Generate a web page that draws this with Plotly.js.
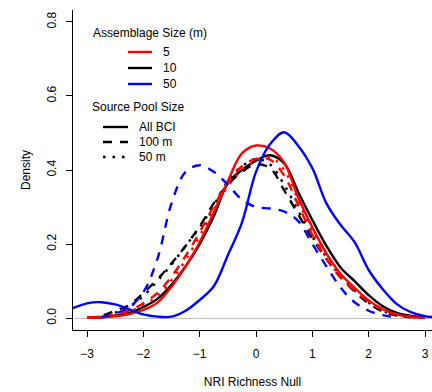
<!DOCTYPE html>
<html><head><meta charset="utf-8">
<script src="https://cdn.plot.ly/plotly-3.0.1.min.js"></script>
<style>html,body{margin:0;padding:0;background:#fff}#chart{width:432px;height:392px}</style>
</head><body><div id="chart"></div>
<script>
// NRI value grid shared by all density curves
const xGrid = [-3.25,-3,-2.75,-2.5,-2.25,-2,-1.75,-1.5,-1.25,-1,-0.75,-0.5,-0.25,0,0.25,0.5,0.75,1,1.25,1.5,1.75,2,2.25,2.5,2.75,3,3.125];

// Assemblage 10 m
const dens10All = [null,0.001,0.002,0.007,0.014,0.030,0.052,0.090,0.140,0.200,0.275,0.365,0.400,0.425,0.440,0.418,0.340,0.265,0.195,0.137,0.100,0.062,0.032,0.014,0.006,0.002,null];
const dens10P100 = [null,0.001,0.006,0.020,0.035,0.068,0.105,0.148,0.195,0.248,0.310,0.360,0.395,0.415,0.405,0.345,0.280,0.215,0.160,0.110,0.072,0.040,0.018,0.007,0.002,null,null];
const dens10P50 = [null,0.001,0.005,0.015,0.030,0.060,0.100,0.145,0.195,0.245,0.305,0.370,0.410,0.430,0.415,0.360,0.290,0.220,0.165,0.115,0.075,0.042,0.020,0.008,0.003,null,null];
// Assemblage 5 m
const dens5All = [null,0.001,0.002,0.005,0.011,0.022,0.042,0.085,0.140,0.205,0.285,0.370,0.445,0.466,0.458,0.420,0.325,0.245,0.175,0.120,0.082,0.048,0.024,0.010,0.003,0.001,null];
const dens5P100 = [null,0.001,0.004,0.010,0.020,0.040,0.068,0.112,0.168,0.232,0.302,0.365,0.410,0.430,0.428,0.385,0.305,0.225,0.160,0.110,0.075,0.045,0.022,0.010,0.004,0.001,null];
const dens5P50 = [null,0.001,0.003,0.008,0.018,0.035,0.060,0.102,0.157,0.222,0.292,0.356,0.400,0.425,0.435,0.400,0.318,0.232,0.165,0.112,0.078,0.045,0.023,0.010,0.004,0.001,null];
// Assemblage 50 m
const dens50All = [0.027,0.040,0.043,0.037,0.024,0.010,0.004,0.004,0.020,0.049,0.086,0.170,0.258,0.395,0.470,0.502,0.465,0.405,0.310,0.252,0.205,0.130,0.078,0.038,0.016,0.005,0.003];
const dens50P100 = [null,null,0.003,0.012,0.030,0.070,0.160,0.310,0.395,0.413,0.395,0.360,0.320,0.300,0.296,0.288,0.262,0.200,0.140,0.083,0.043,0.020,0.008,0.002,null,null,null];

const xTicks = [-3,-2,-1,0,1,2,3];
const yTicks = [0,0.2,0.4,0.6,0.8];
const yTickLabels = ['0.0','0.2','0.4','0.6','0.8'];

const assemblageLabels = ['5','10','50'];
const assemblageColors = ['#FF0000','#000000','#0000FF'];
const sourceLabels = ['All BCI','100 m','50 m'];
const sourceDashes = ['solid','9px,8px','2.5px,7px'];

const series = [
  {y: dens10All, c: 1, s: 0}, {y: dens10P100, c: 1, s: 1}, {y: dens10P50, c: 1, s: 2},
  {y: dens5All, c: 0, s: 0}, {y: dens5P100, c: 0, s: 1}, {y: dens5P50, c: 0, s: 2},
  {y: dens50All, c: 2, s: 0}, {y: dens50P100, c: 2, s: 1}
];

const traces = series.map(d => ({
  type: 'scatter', mode: 'lines', x: xGrid, y: d.y,
  name: assemblageLabels[d.c] + ' m / ' + sourceLabels[d.s],
  line: {color: assemblageColors[d.c], width: 2.4, dash: sourceDashes[d.s], shape: 'spline', smoothing: 1},
  connectgaps: false, showlegend: false, hoverinfo: 'skip'
}));

// legend drawn in paper space (px -> paper)
const L = 73, W = 359, B = 330, H = 320;
const px = v => (v - L) / W, py = v => (B - v) / H;
const font = {family: 'Liberation Sans, Arial, sans-serif', size: 12, color: '#000'};
const annotations = [], shapes = [];
annotations.push({text: 'Assemblage Size (m)', xref: 'paper', yref: 'paper', x: px(150), y: py(33), xanchor: 'center', yanchor: 'middle', showarrow: false, font});
assemblageLabels.forEach((lab, i) => {
  const yy = py(52 + i * 16);
  shapes.push({type: 'line', xref: 'paper', yref: 'paper', x0: px(128), x1: px(152), y0: yy, y1: yy, line: {color: assemblageColors[i], width: 2.4}});
  annotations.push({text: lab, xref: 'paper', yref: 'paper', x: px(161), y: yy, xanchor: 'left', yanchor: 'middle', showarrow: false, font});
});
annotations.push({text: 'Source Pool Size', xref: 'paper', yref: 'paper', x: px(138), y: py(107), xanchor: 'center', yanchor: 'middle', showarrow: false, font});
sourceLabels.forEach((lab, i) => {
  const yy = py(127 + i * 15);
  shapes.push({type: 'line', xref: 'paper', yref: 'paper', x0: px(103), x1: px(128), y0: yy, y1: yy, line: {color: '#000', width: 2.4, dash: sourceDashes[i]}});
  annotations.push({text: lab, xref: 'paper', yref: 'paper', x: px(137), y: yy, xanchor: 'left', yanchor: 'middle', showarrow: false, font});
});

const layout = {
  width: 432, height: 392,
  margin: {l: 73, r: 0, t: 10, b: 62},
  paper_bgcolor: '#fff', plot_bgcolor: '#fff',
  font: font,
  showlegend: false,
  xaxis: {
    range: [-3.249, 3.124], tickvals: xTicks, ticks: 'outside', ticklen: 6, tickcolor: '#000', tickwidth: 1,
    ticklabelstandoff: 7,
    showline: true, linecolor: '#000', linewidth: 1, showgrid: false, zeroline: false,
    tickfont: font, title: {text: 'NRI Richness Null', font: font, standoff: 17}, automargin: false
  },
  yaxis: {
    range: [-0.032, 0.832], tickvals: yTicks, ticktext: yTickLabels, tickangle: -90,
    ticks: 'outside', ticklen: 6, tickcolor: '#000', tickwidth: 1,
    ticklabelstandoff: 5,
    showline: true, linecolor: '#000', linewidth: 1, showgrid: false,
    zeroline: true, zerolinecolor: '#BEBEBE', zerolinewidth: 1,
    tickfont: font, title: {text: 'Density', font: font, standoff: 12}, automargin: false
  },
  annotations, shapes
};

Plotly.newPlot('chart', traces, layout, {staticPlot: true, displayModeBar: false});
</script></body></html>
